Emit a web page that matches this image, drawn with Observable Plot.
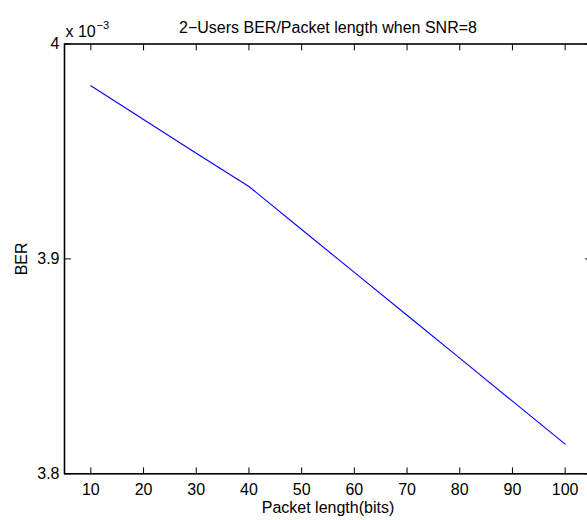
<!DOCTYPE html>
<html><head><meta charset="utf-8">
<script src="https://cdn.jsdelivr.net/npm/d3@7"></script>
<script src="https://cdn.jsdelivr.net/npm/@observablehq/plot@0.6"></script>
<style>body{margin:0;background:#fff} svg{display:block}</style>
</head><body><div id="chart"></div>
<script>
const packetLength = [10, 20, 30, 40, 50, 60, 70, 80, 90, 100];
const berTimes1e3 = [3.9806, 3.9649, 3.9492, 3.9337, 3.9137, 3.8937, 3.8738, 3.8538, 3.8338, 3.8138];
const xTicks = [10, 20, 30, 40, 50, 60, 70, 80, 90, 100];
const xTickLabels = ["10", "20", "30", "40", "50", "60", "70", "80", "90", "100"];
const yTicks = [3.8, 3.9, 4.0];
const yTickLabels = ["3.8", "3.9", "4"];
const titleText = "2\u2212Users BER/Packet length when SNR=8";
const xLabel = "Packet length(bits)";
const yLabel = "BER";
const exponentBase = "x 10";
const exponentPower = "\u22123";

const data = packetLength.map((x, i) => ({x, y: berTimes1e3[i]}));
const tickShape = {draw(context, l) { context.moveTo(0, 0); context.lineTo(0, -l); }};
const font = "'Liberation Sans', Arial, Helvetica, sans-serif";
const tickStyle = {length: 6, anchor: "start", shape: tickShape, stroke: "#000", strokeWidth: 1};

const chart = Plot.plot({
  width: 587,
  height: 520,
  marginLeft: 64,
  marginRight: -4,
  marginTop: 43.5,
  marginBottom: 46.7,
  style: {fontFamily: font, fontSize: "16px", color: "#000", background: "#fff"},
  x: {domain: [5, 105], axis: null},
  y: {domain: [3.8, 4.0], axis: null},
  marks: [
    Plot.line(data, {x: "x", y: "y", stroke: "#0000ff", strokeWidth: 1.1}),
    Plot.vector(xTicks, {x: d => d, frameAnchor: "bottom", rotate: 0, ...tickStyle}),
    Plot.vector(xTicks, {x: d => d, frameAnchor: "top", rotate: 180, ...tickStyle}),
    Plot.vector(yTicks, {y: d => d, frameAnchor: "left", rotate: 90, ...tickStyle}),
    Plot.vector(yTicks, {y: d => d, frameAnchor: "right", rotate: -90, ...tickStyle}),
    Plot.frame({stroke: "#000", strokeWidth: 1.6}),
    Plot.text(xTicks, {x: d => d, frameAnchor: "bottom", dy: 21, lineAnchor: "bottom", textAnchor: "middle", text: (d, i) => xTickLabels[i], fontSize: 16, fill: "#000"}),
    Plot.text(yTicks, {y: d => d, frameAnchor: "left", dx: -5, lineAnchor: "middle", textAnchor: "end", text: (d, i) => yTickLabels[i], fontSize: 16, fill: "#000"}),
    Plot.text([titleText], {frameAnchor: "top", dy: -11.5, lineAnchor: "bottom", textAnchor: "middle", fontSize: 16, fill: "#000"}),
    Plot.text([xLabel], {frameAnchor: "bottom", dy: 39, lineAnchor: "bottom", textAnchor: "middle", fontSize: 16, fill: "#000"}),
    Plot.text([yLabel], {frameAnchor: "left", dx: -38, rotate: -90, lineAnchor: "bottom", textAnchor: "middle", fontSize: 16, fill: "#000"}),
    Plot.text([exponentBase], {frameAnchor: "top-left", dx: 1, dy: -7.5, lineAnchor: "bottom", textAnchor: "start", fontSize: 16, fill: "#000"}),
    Plot.text([exponentPower], {frameAnchor: "top-left", dx: 32, dy: -15.5, lineAnchor: "bottom", textAnchor: "start", fontSize: 11, fill: "#000"})
  ]
});
document.getElementById("chart").appendChild(chart);
</script>
</body></html>
